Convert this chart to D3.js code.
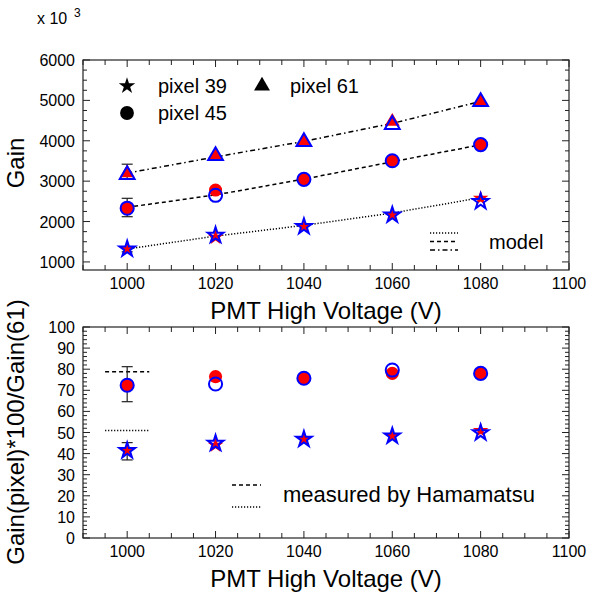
<!DOCTYPE html>
<html><head><meta charset="utf-8">
<script src="https://cdn.jsdelivr.net/npm/d3@7"></script>
<style>body{margin:0;background:#fff}svg{display:block}text{font-family:"Liberation Sans",Arial,sans-serif;fill:#000}</style>
</head><body>
<svg id="c" width="599" height="599"></svg>
<script>
// ---- data ----
const voltages = [1000, 1020, 1040, 1060, 1080];
const xTickLabels = [1000, 1020, 1040, 1060, 1080, 1100];
const gainTickLabels = [1000, 2000, 3000, 4000, 5000, 6000];
const ratioTickLabels = [0, 10, 20, 30, 40, 50, 60, 70, 80, 90, 100];

// gain (x 10^3), red filled and blue open measurements
const gain39Red  = [1310, 1610, 1870, 2160, 2575];
const gain39Blue = [1320, 1660, 1875, 2160, 2495];
const gain45Red  = [2340, 2780, 3045, 3505, 3910];
const gain45Blue = [2330, 2650, 3045, 3505, 3905];
const gain61Red  = [3200, 3630, 3980, 4475, 4970];
const gain61Blue = [3160, 3630, 3975, 4400, 4965];
// error bars at 1000 V [low, high]
const gainErr45 = [2120, 2575];
const gainErr61 = [3050, 3420];
const gainErr39 = [1250, 1380];

// model curves
const model39 = [1320, 1640, 1905, 2210, 2590];
const model45 = [2352, 2660, 3050, 3480, 3900];
const model61 = [3200, 3600, 3985, 4430, 4975];

// ratio Gain(pixel)*100/Gain(61)
const ratio39Red  = [41.4, 44.0, 46.8, 48.3, 50.9];
const ratio39Blue = [41.4, 44.9, 46.8, 48.3, 49.9];
const ratio45Red  = [72.4, 76.5, 75.7, 78.0, 78.0];
const ratio45Blue = [72.4, 73.0, 75.7, 79.6, 78.0];
const ratioErr45 = [64.6, 81.2];
const ratioErr39 = [37.0, 45.2];
// measured by Hamamatsu (drawn near 1000 V)
const hamamatsuX = [995, 1005];
const hamamatsu45 = 78.8;
const hamamatsu39 = 50.9;

// ---- layout ----
const svg = d3.select("#c");
const x = d3.scaleLinear().domain([990, 1100]).range([83, 569]);
const yTop = d3.scaleLinear().domain([800, 6000]).range([270, 60]);
const yBot = d3.scaleLinear().domain([0, 100]).range([538, 327]);
const RED = "#ff0000", BLUE = "#0000ff", INK = "#222";

function frame(y, yMinorStep, yMajor, yLabels) {
  const g = svg.append("g");
  const [x0, x1] = x.range(), [yb, yt] = y.range();
  g.append("rect").attr("x", x0).attr("y", yt).attr("width", x1 - x0).attr("height", yb - yt)
    .attr("fill", "none").attr("stroke", INK).attr("stroke-width", 1.2);
  // x ticks every 5
  d3.range(990, 1100.01, 5).forEach(v => {
    const major = (v % 20 === 0);
    const L = major ? 7 : 5;
    g.append("line").attr("x1", x(v)).attr("x2", x(v)).attr("y1", yb).attr("y2", yb - L).attr("stroke", INK);
    g.append("line").attr("x1", x(v)).attr("x2", x(v)).attr("y1", yt).attr("y2", yt + L).attr("stroke", INK);
  });
  const [d0, d1] = y.domain();
  const start = Math.ceil(d0 / yMinorStep) * yMinorStep;
  d3.range(start, d1 + 1e-6, yMinorStep).forEach(v => {
    const major = Math.abs(v / yMajor - Math.round(v / yMajor)) < 1e-6;
    const L = major ? 7 : 4;
    g.append("line").attr("x1", x0).attr("x2", x0 + L).attr("y1", y(v)).attr("y2", y(v)).attr("stroke", INK);
    g.append("line").attr("x1", x1).attr("x2", x1 - L).attr("y1", y(v)).attr("y2", y(v)).attr("stroke", INK);
  });
  xTickLabels.forEach(v => {
    g.append("text").attr("x", x(v)).attr("y", yb + 19).attr("text-anchor", "middle")
      .attr("font-size", 16).text(v);
  });
  yLabels.forEach(v => {
    g.append("text").attr("x", x0 - 8).attr("y", y(v) + 6).attr("text-anchor", "end")
      .attr("font-size", 16).text(v);
  });
}

frame(yTop, 250, 1000, gainTickLabels);
frame(yBot, 2, 10, ratioTickLabels);

// titles
svg.append("text").attr("x", 37).attr("y", 24).attr("font-size", 16).text("x 10");
svg.append("text").attr("x", 74).attr("y", 17).attr("font-size", 12).text("3");
svg.append("text").attr("transform", "translate(24,163) rotate(-90)").attr("text-anchor", "middle")
  .attr("font-size", 24).text("Gain");
svg.append("text").attr("x", 326).attr("y", 319).attr("text-anchor", "middle").attr("font-size", 24)
  .text("PMT High Voltage (V)");
svg.append("text").attr("x", 326).attr("y", 587).attr("text-anchor", "middle").attr("font-size", 24)
  .text("PMT High Voltage (V)");
svg.append("text").attr("transform", "translate(24,432) rotate(-90)").attr("text-anchor", "middle")
  .attr("font-size", 24).text("Gain(pixel)*100/Gain(61)");

// model lines
const dashes = { dot: "1.2,1.8", dash: "4,3", dashdot: "5,3,1.5,3" };
const lineTop = d3.line().x((d, i) => x(voltages[i])).y(d => yTop(d));
[[model39, dashes.dot], [model45, dashes.dash], [model61, dashes.dashdot]].forEach(([m, da]) => {
  svg.append("path").attr("d", lineTop(m)).attr("fill", "none").attr("stroke", "#000")
    .attr("stroke-width", 1.5).attr("stroke-dasharray", da);
});

// symbols
const sym = {
  star: d3.symbol().type(d3.symbolStar).size(75)(),
  circle: d3.symbol().type(d3.symbolCircle).size(135)(),
  tri: d3.symbol().type(d3.symbolTriangle).size(95)()
};

function errbar(y, xv, lo, hi) {
  const g = svg.append("g").attr("stroke", INK).attr("stroke-width", 1.2);
  g.append("line").attr("x1", x(xv)).attr("x2", x(xv)).attr("y1", y(lo)).attr("y2", y(hi));
  [lo, hi].forEach(v => g.append("line").attr("x1", x(xv) - 5.5).attr("x2", x(xv) + 5.5)
    .attr("y1", y(v)).attr("y2", y(v)));
}
function markers(y, vals, shape, filled) {
  svg.append("g").selectAll("path").data(vals).join("path")
    .attr("d", sym[shape])
    .attr("transform", (d, i) => `translate(${x(voltages[i])},${y(d)})`)
    .attr("fill", filled ? RED : "none")
    .attr("stroke", filled ? "none" : BLUE)
    .attr("stroke-width", filled ? 0 : 2);
}

// top panel points
errbar(yTop, voltages[0], gainErr61[0], gainErr61[1]);
errbar(yTop, voltages[0], gainErr45[0], gainErr45[1]);
errbar(yTop, voltages[0], gainErr39[0], gainErr39[1]);
markers(yTop, gain61Red, "tri", true);
markers(yTop, gain45Red, "circle", true);
markers(yTop, gain39Red, "star", true);
markers(yTop, gain61Blue, "tri", false);
markers(yTop, gain45Blue, "circle", false);
markers(yTop, gain39Blue, "star", false);

// top legend
function legSym(shape, cx, cy, size) {
  svg.append("path").attr("d", d3.symbol().type(shape).size(size)())
    .attr("transform", `translate(${cx},${cy})`).attr("fill", "#000");
}
legSym(d3.symbolStar, 127, 86, 85);
svg.append("text").attr("x", 158).attr("y", 93).attr("font-size", 20).text("pixel 39");
legSym(d3.symbolTriangle, 262, 86, 110);
svg.append("text").attr("x", 290).attr("y", 93).attr("font-size", 20).text("pixel 61");
legSym(d3.symbolCircle, 127, 113, 150);
svg.append("text").attr("x", 158).attr("y", 120).attr("font-size", 20).text("pixel 45");

// model legend
[[233, dashes.dot], [241.5, dashes.dash], [250, dashes.dashdot]].forEach(([yy, da]) => {
  svg.append("line").attr("x1", 430).attr("x2", 458).attr("y1", yy).attr("y2", yy)
    .attr("stroke", "#000").attr("stroke-width", 1.5).attr("stroke-dasharray", da);
});
svg.append("text").attr("x", 489).attr("y", 249).attr("font-size", 20).text("model");

// bottom panel: Hamamatsu lines
svg.append("line").attr("x1", x(hamamatsuX[0])).attr("x2", x(hamamatsuX[1]))
  .attr("y1", yBot(hamamatsu45)).attr("y2", yBot(hamamatsu45))
  .attr("stroke", "#000").attr("stroke-width", 1.5).attr("stroke-dasharray", dashes.dash);
svg.append("line").attr("x1", x(hamamatsuX[0])).attr("x2", x(hamamatsuX[1]))
  .attr("y1", yBot(hamamatsu39)).attr("y2", yBot(hamamatsu39))
  .attr("stroke", "#000").attr("stroke-width", 1.5).attr("stroke-dasharray", dashes.dot);

errbar(yBot, voltages[0], ratioErr45[0], ratioErr45[1]);
errbar(yBot, voltages[0], ratioErr39[0], ratioErr39[1]);
markers(yBot, ratio45Red, "circle", true);
markers(yBot, ratio39Red, "star", true);
markers(yBot, ratio45Blue, "circle", false);
markers(yBot, ratio39Blue, "star", false);

// bottom legend
svg.append("line").attr("x1", 232).attr("x2", 261).attr("y1", 485).attr("y2", 485)
  .attr("stroke", "#000").attr("stroke-width", 1.5).attr("stroke-dasharray", dashes.dash);
svg.append("line").attr("x1", 232).attr("x2", 261).attr("y1", 507).attr("y2", 507)
  .attr("stroke", "#000").attr("stroke-width", 1.5).attr("stroke-dasharray", dashes.dot);
svg.append("text").attr("x", 283).attr("y", 502).attr("font-size", 22).text("measured by Hamamatsu");
</script>
</body></html>
